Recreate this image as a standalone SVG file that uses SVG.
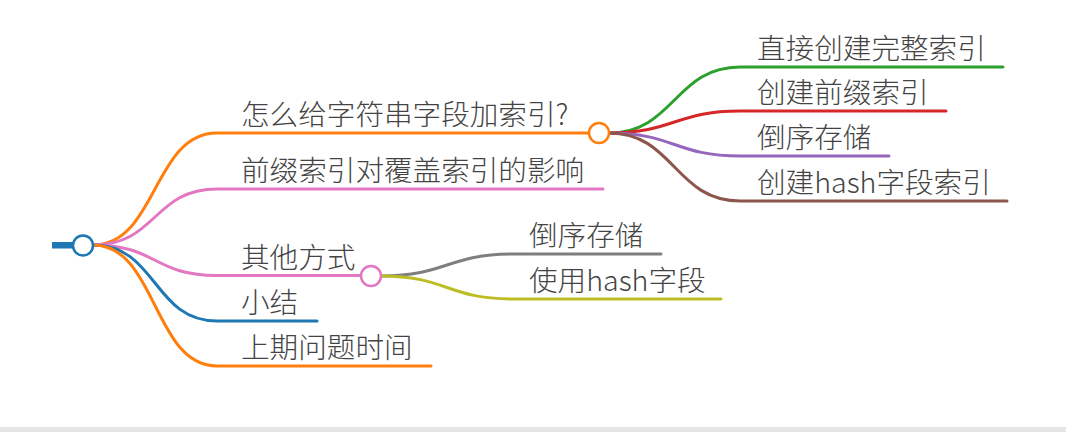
<svg xmlns="http://www.w3.org/2000/svg" width="1066" height="432" viewBox="0 0 1066 432">
<style>
.t{font-family:"Noto Sans CJK SC","Noto Sans",sans-serif;font-size:28.6px;fill:#444;font-weight:300}
.c{fill:none;stroke-width:3;stroke-linecap:round}
.n{fill:#fff;stroke-width:2.5}
</style>
<rect x="0" y="0" width="1066" height="432" fill="#fff"/>
<rect x="0" y="427" width="1066" height="5" fill="#e5e5e5"/>
<g id="connectors">
<path class="c" stroke="#ff7f0e" d="M93,245 C157,245 153,133 217,133 L589,133"/>
<path class="c" stroke="#e377c2" d="M93,245 C157,245 153,189 217,189 L603,189"/>
<path class="c" stroke="#e377c2" d="M93,245 C157,245 153,275.5 217,275.5 L361,275.5"/>
<path class="c" stroke="#1f77b4" d="M93,245 C157,245 153,321 217,321 L317,321"/>
<path class="c" stroke="#ff7f0e" d="M93,245 C157,245 153,366 217,366 L431,366"/>
<path class="c" stroke="#2ca02c" d="M609,133 C674,133 675,67 740,67 L1003,67"/>
<path class="c" stroke="#d62728" d="M609,133 C674,133 675,111 740,111 L946,111"/>
<path class="c" stroke="#9467bd" d="M609,133 C674,133 675,156 740,156 L889,156"/>
<path class="c" stroke="#8c564b" d="M609,133 C674,133 675,201 740,201 L1007,201"/>
<path class="c" stroke="#7f7f7f" d="M381,276 C447,276 447,254 513,254 L661,254"/>
<path class="c" stroke="#bcbd22" d="M381,276 C447,276 447,299 513,299 L721,299"/>
</g>
<g id="root">
<rect x="52" y="242" width="22" height="6.5" fill="#1f77b4"/>
<circle class="n" cx="83" cy="245.5" r="10" stroke="#1f77b4"/>
</g>
<g id="n1">
<text class="t" x="241" y="125">怎么给字符串字段加索引?</text>
<circle class="n" cx="599" cy="133" r="10" stroke="#ff7f0e"/>
</g>
<g id="n2"><text class="t" x="241" y="181">前缀索引对覆盖索引的影响</text></g>
<g id="n3">
<text class="t" x="241" y="268">其他方式</text>
<circle class="n" cx="371" cy="276" r="10" stroke="#e377c2"/>
</g>
<g id="n4"><text class="t" x="241" y="313">小结</text></g>
<g id="n5"><text class="t" x="241" y="358">上期问题时间</text></g>
<g id="n11"><text class="t" x="757" y="59">直接创建完整索引</text></g>
<g id="n12"><text class="t" x="757" y="103">创建前缀索引</text></g>
<g id="n13"><text class="t" x="757" y="148">倒序存储</text></g>
<g id="n14"><text class="t" x="757" y="193">创建hash字段索引</text></g>
<g id="n31"><text class="t" x="529" y="246">倒序存储</text></g>
<g id="n32"><text class="t" x="529" y="291">使用hash字段</text></g>
</svg>
